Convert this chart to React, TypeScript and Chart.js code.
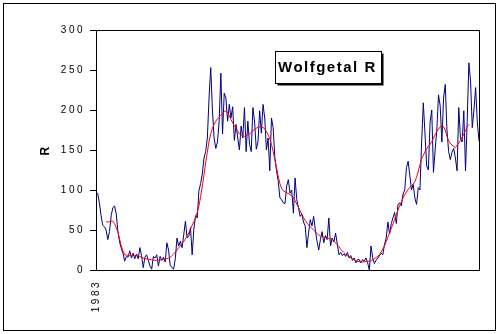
import React, { useEffect, useRef } from 'react';
import { Chart, registerables } from 'chart.js';

Chart.register(...registerables);

const startYear = 1983;
const xTickLabels = ['1983'];
const yMin = 0;
const yMax = 300;
const yStep = 50;
const axisTitle = 'R';
const boxTitle = 'Wolfgetal R';

// monthly values, one row per year 1983 .. 2001
const monthlyR = [
  94, 96, 84, 68, 56, 54, 50, 38, 48, 68, 78, 80,
  70, 48, 35, 27, 21, 11, 17, 16, 24, 15, 21, 14,
  20, 14, 28, 18, 3, 16, 19, 12, 5, 1, 17, 15,
  19, 5, 17, 12, 16, 10, 34, 25, 6, 3, 1, 14,
  40, 30, 36, 28, 44, 61, 40, 42, 53, 19, 51, 68,
  65, 99, 108, 120, 140, 148, 165, 215, 253, 200, 165, 152,
  160, 186, 246, 170, 221, 215, 186, 207, 190, 204, 162, 182,
  165, 150, 180, 165, 203, 148, 186, 157, 148, 203, 185, 151,
  160, 199, 171, 207, 190, 150, 165, 124, 190, 178, 140, 124,
  111, 90, 88, 84, 83, 105, 113, 96, 100, 71, 115, 88,
  78, 67, 70, 60, 55, 28, 46, 63, 55, 67, 50, 36,
  25, 38, 48, 34, 43, 38, 65, 30, 40, 35, 46, 33,
  19, 22, 18, 20, 17, 22, 15, 18, 12, 15, 9, 13,
  13, 9, 13, 11, 15, 9, 0, 30, 15, 8, 12, 15,
  18, 21, 19, 32, 40, 60, 45, 58, 65, 72, 58, 82,
  84, 80, 95, 100, 128, 136, 118, 100, 107, 90, 82, 103,
  100, 160, 209, 170, 130, 125, 185, 200, 122, 150, 175, 219,
  205, 160, 215, 232, 175, 148, 138, 147, 152, 140, 124, 203,
  165, 160, 199, 124, 186, 259, 236, 178, 200, 228, 185, 161,
];

// smoothed values (null where the smoothing window is incomplete)
const smoothedR = [
  null, null, null, null, null, null, 60, 60, 60.5, 61, 61, 58,
  53, 47.5, 38.5, 30, 24, 19, 18.6, 18.3, 18, 18, 18, 18,
  18, 17.8, 16.7, 15.7, 14.9, 14.4, 13.9, 13.4, 13, 12.7, 12.4, 12.2,
  12, 12.3, 12.6, 12.9, 13.2, 13.7, 14.2, 14.7, 15.8, 17.9, 19.9, 22.3,
  25, 27.7, 30.4, 33.2, 35.7, 39, 42.7, 46.5, 51, 56, 60.7, 65,
  72, 80, 91.6, 105, 119, 134, 147, 161, 170, 177.3, 182, 186,
  189, 191, 193.6, 195.7, 198, 199, 196.3, 193, 188, 184, 180, 177,
  173.5, 170, 169, 168, 167, 168, 169, 170, 172, 174, 176, 177,
  178.5, 179, 178.5, 178, 176.5, 173, 169, 164, 157, 148, 138, 128,
  117, 108, 102, 99, 97.8, 96.5, 95.6, 94.2, 92.8, 90.6, 86.5, 82.4,
  78.4, 74, 69.6, 65.6, 62, 58.8, 56.2, 54, 52, 50, 48, 45.7,
  43.5, 42.6, 42, 41.3, 40.5, 39.8, 39.5, 39.2, 38, 36, 34, 31.5,
  29, 26, 23.7, 21.6, 19.5, 18, 16.7, 15.4, 14, 12.7, 11.3, 10.8,
  10.5, 10.2, 10, 10.2, 10.5, 10.7, 11, 11.9, 12.9, 14, 15.6, 17.3,
  19, 22.5, 26.3, 30, 35.4, 41, 46.3, 51.8, 57.6, 63.3, 69, 75,
  80.6, 85.3, 90, 94.4, 97.5, 100.5, 103.4, 105.4, 107.5, 110.4, 116, 123,
  131.5, 139, 143.4, 148, 151.8, 154.5, 157, 160.3, 164.7, 169, 173, 176,
  179, 180.5, 179, 175, 167, 161.5, 158.6, 156, 154.5, 153, 156, 158.8,
  162, 165.6, 170, 174, 179, 182, null, null, null, null, null, null,
];

const categories = monthlyR.map(
  (_, i) => `${startYear + Math.floor(i / 12)}-${String((i % 12) + 1).padStart(2, '0')}`
);

const FONT = '"Liberation Sans", Arial, sans-serif';
const W = 500;
const H = 334;

const decorPlugin = {
  id: 'decor',
  beforeLayout(chart: any) {
    chart.ctx.letterSpacing = '2.5px';
  },
  beforeDraw(chart: any) {
    const ctx = chart.ctx;
    ctx.save();
    ctx.fillStyle = '#ffffff';
    ctx.fillRect(0, 0, chart.width, chart.height);
    ctx.restore();
    ctx.letterSpacing = '2.5px';
  },
  afterDraw(chart: any) {
    const ctx = chart.ctx;
    const { left, top, right, bottom } = chart.chartArea;
    ctx.save();
    ctx.letterSpacing = '0px';
    ctx.strokeStyle = '#000';
    ctx.lineWidth = 1;
    // plot frame
    ctx.strokeRect(Math.round(left) + 0.5, Math.round(top) + 0.5, Math.round(right - left), Math.round(bottom - top));
    // outer frame
    ctx.strokeRect(3.5, 3.5, W - 8, H - 7);
    // title box with shadow
    const bx = 275.5, by = 51.5, bw = 106, bh = 32;
    ctx.fillStyle = '#000';
    ctx.fillRect(bx + 2, by + 2, bw, bh);
    ctx.fillStyle = '#fff';
    ctx.fillRect(bx, by, bw, bh);
    ctx.strokeRect(bx, by, bw, bh);
    ctx.fillStyle = '#000';
    ctx.font = `bold 15px ${FONT}`;
    ctx.letterSpacing = '1.5px';
    ctx.textBaseline = 'alphabetic';
    ctx.textAlign = 'left';
    ctx.fillText(boxTitle, 278, 72);
    ctx.restore();
  },
};

export default function App() {
  const ref = useRef<HTMLCanvasElement | null>(null);

  useEffect(() => {
    if (!ref.current) return;
    const chart = new Chart(ref.current, {
      type: 'line',
      data: {
        labels: categories,
        datasets: [
          {
            label: 'smoothed',
            data: smoothedR,
            borderColor: '#ff0000',
            borderWidth: 1,
            pointRadius: 0,
            tension: 0,
            fill: false,
            spanGaps: false,
          },
          {
            label: 'R',
            data: monthlyR,
            borderColor: '#000080',
            borderWidth: 1,
            pointRadius: 0,
            tension: 0,
            fill: false,
          },
        ],
      },
      options: {
        responsive: false,
        animation: false,
        devicePixelRatio: 1,
        layout: { padding: { left: 0, right: 21, top: 30, bottom: 0 } },
        plugins: {
          legend: { display: false },
          tooltip: { enabled: false },
          title: { display: false },
        },
        scales: {
          x: {
            type: 'category',
            offset: false,
            grid: { display: false, drawTicks: false },
            border: { display: true, color: '#000', width: 1 },
            ticks: {
              autoSkip: false,
              maxRotation: 90,
              minRotation: 90,
              padding: 10,
              color: '#000',
              font: { family: FONT, size: 10 },
              callback: (_v: any, i: number) => (i < xTickLabels.length ? xTickLabels[i] : null),
            },
            afterFit: (scale: any) => {
              scale.height = 64;
              scale.paddingLeft = 0;
              scale.paddingRight = 0;
            },
          },
          y: {
            min: yMin,
            max: yMax,
            grid: { drawOnChartArea: false, drawTicks: true, tickLength: 6, color: '#000' },
            border: { display: true, color: '#000', width: 1 },
            ticks: {
              stepSize: yStep,
              padding: 5,
              color: '#000',
              font: { family: FONT, size: 10 },
            },
            title: {
              display: true,
              text: axisTitle,
              color: '#000',
              font: { family: FONT, size: 12, weight: 'bold' },
              padding: { top: 38, bottom: 0 },
            },
            afterFit: (scale: any) => {
              scale.width = 96;
            },
          },
        },
      },
      plugins: [decorPlugin],
    });
    return () => chart.destroy();
  }, []);

  return (
    <div style={{ position: 'fixed', left: 0, top: 0, width: W, height: H, background: '#fff' }}>
      <canvas ref={ref} width={W} height={H} style={{ display: 'block', width: W, height: H }} />
    </div>
  );
}
